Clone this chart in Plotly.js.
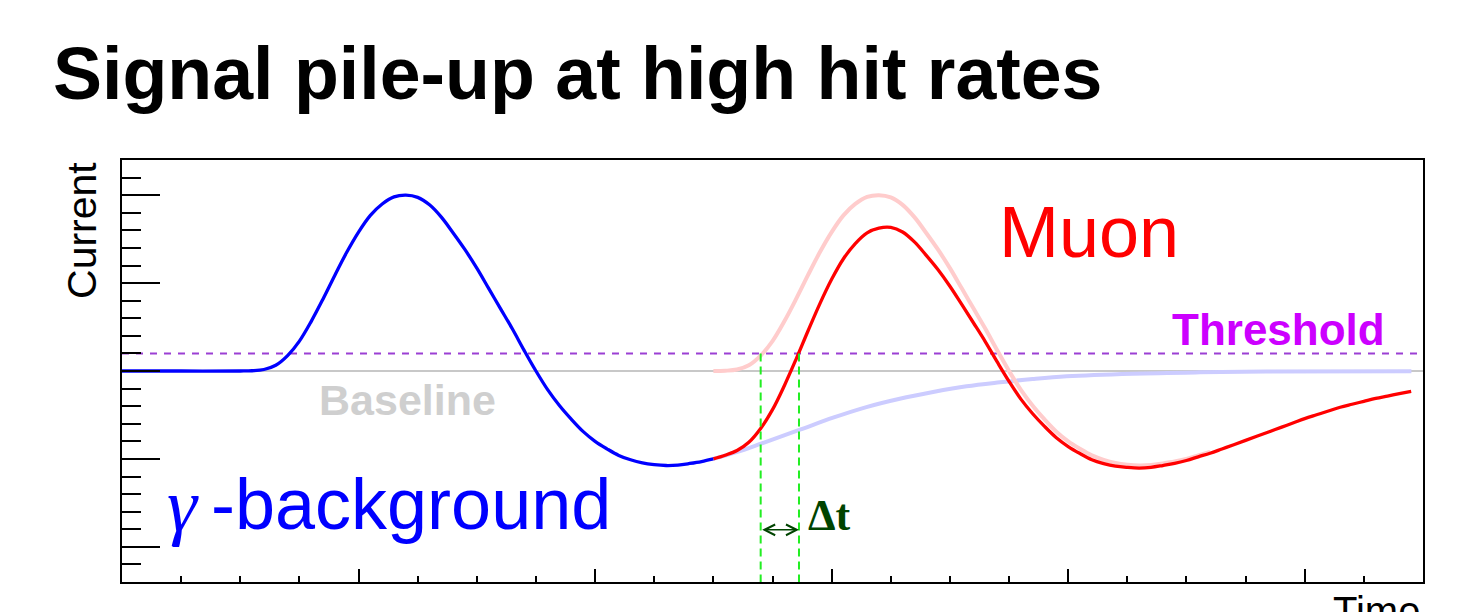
<!DOCTYPE html>
<html>
<head>
<meta charset="utf-8">
<script src="https://cdn.plot.ly/plotly-3.0.1.min.js"></script>
<style>
html,body{margin:0;padding:0;background:#ffffff;}
#chart{width:1461px;height:612px;}
</style>
</head>
<body>
<div id="chart"></div>
<script>
// ---- data (x in major-tick units, y in major-tick units) ----
const xRange = [0, 5.5];
const yRange = [-2.4, 2.4];
const baselineLevel = 0;
const thresholdLevel = 0.2;

// gamma-background pulse (solid blue part)
const bgX = [0, 0.25, 0.5, 0.55, 0.6, 0.65, 0.7, 0.75, 0.8, 0.85, 0.9, 0.95, 1.0, 1.05, 1.1, 1.15, 1.2, 1.25, 1.3, 1.35, 1.4, 1.45, 1.5, 1.55, 1.6, 1.65, 1.7, 1.75, 1.8, 1.85, 1.9, 1.95, 2.0, 2.05, 2.1, 2.15, 2.2, 2.25, 2.3, 2.35, 2.4, 2.45, 2.5];
const bgY = [0, 0, 0, 0.003, 0.017, 0.065, 0.175, 0.34, 0.565, 0.82, 1.09, 1.35, 1.58, 1.77, 1.90, 1.98, 2.0, 1.975, 1.89, 1.75, 1.57, 1.38, 1.17, 0.94, 0.71, 0.48, 0.235, 0.0, -0.215, -0.395, -0.55, -0.69, -0.80, -0.885, -0.96, -1.01, -1.045, -1.065, -1.075, -1.07, -1.052, -1.03, -1.0];

// gamma-background undershoot tail (pale blue)
const tailX = [2.5, 2.598, 2.701, 2.866, 3.006, 3.147, 3.288, 3.429, 3.57, 3.711, 3.85, 3.993, 4.273, 4.556, 4.838, 5.451];
const tailY = [-1.0, -0.923, -0.827, -0.668, -0.531, -0.41, -0.315, -0.239, -0.174, -0.129, -0.091, -0.06, -0.03, -0.015, -0.007, -0.003];

// muon pulse on a clean baseline (pale red)
const muonX = [2.5, 2.55, 2.6, 2.65, 2.7, 2.75, 2.8, 2.85, 2.9, 2.95, 3.0, 3.05, 3.1, 3.15, 3.2, 3.25, 3.3, 3.35, 3.4, 3.45, 3.5, 3.55, 3.6, 3.65, 3.7, 3.75, 3.8, 3.85, 3.9, 3.95, 4.0, 4.05, 4.1, 4.15, 4.2, 4.25, 4.3, 4.35, 4.4, 4.45, 4.5, 4.55, 4.6];
const muonY = [0, 0.003, 0.017, 0.065, 0.175, 0.34, 0.565, 0.82, 1.09, 1.35, 1.58, 1.77, 1.90, 1.98, 2.0, 1.975, 1.89, 1.75, 1.57, 1.38, 1.17, 0.94, 0.71, 0.48, 0.235, 0.0, -0.215, -0.395, -0.55, -0.69, -0.80, -0.885, -0.96, -1.01, -1.045, -1.065, -1.075, -1.07, -1.052, -1.03, -1.0, -0.961, -0.921];

// piled-up muon signal (red)
const sumX = [2.5, 2.55, 2.6, 2.65, 2.7, 2.75, 2.8, 2.85, 2.9, 2.95, 3.0, 3.05, 3.1, 3.15, 3.2, 3.25, 3.3, 3.35, 3.4, 3.45, 3.5, 3.55, 3.6, 3.65, 3.7, 3.75, 3.8, 3.85, 3.9, 3.95, 4.0, 4.05, 4.1, 4.15, 4.2, 4.25, 4.3, 4.35, 4.4, 4.45, 4.5, 4.55, 4.6, 4.65, 4.7, 4.75, 4.8, 4.85, 4.9, 4.95, 5.0, 5.05, 5.1, 5.15, 5.2, 5.25, 5.3, 5.35, 5.4, 5.45];
const sumY = [-1.0, -0.958, -0.904, -0.81, -0.653, -0.44, -0.167, 0.136, 0.455, 0.764, 1.043, 1.277, 1.45, 1.572, 1.626, 1.634, 1.581, 1.468, 1.315, 1.151, 0.964, 0.757, 0.546, 0.332, 0.103, -0.118, -0.32, -0.486, -0.63, -0.759, -0.859, -0.939, -1.009, -1.053, -1.083, -1.097, -1.104, -1.096, -1.075, -1.051, -1.018, -0.976, -0.935, -0.887, -0.839, -0.789, -0.74, -0.691, -0.641, -0.592, -0.542, -0.498, -0.455, -0.412, -0.378, -0.345, -0.312, -0.285, -0.258, -0.232];

// threshold crossing times (green markers) and the delta-t arrow level
const crossTimes = [2.70, 2.862];
const arrowLevel = -1.807;

// ---- traces ----
const curve = {shape: 'spline', smoothing: 1};
const traces = [
  {x: xRange, y: [baselineLevel, baselineLevel], mode: 'lines', line: {color: '#c8c8c8', width: 2}},
  {x: xRange, y: [thresholdLevel, thresholdLevel], mode: 'lines', line: {color: '#9b3fd4', width: 2, dash: '7px,7px'}},
  {x: tailX, y: tailY, mode: 'lines', line: Object.assign({color: '#ccccff', width: 4}, curve)},
  {x: muonX, y: muonY, mode: 'lines', line: Object.assign({color: '#ffcccc', width: 4}, curve)},
  {x: sumX, y: sumY, mode: 'lines', line: Object.assign({color: '#ff0000', width: 3.3}, curve)},
  {x: bgX, y: bgY, mode: 'lines', line: Object.assign({color: '#0000ff', width: 3.3}, curve)},
  {x: [crossTimes[0], crossTimes[0]], y: [thresholdLevel, yRange[0]], mode: 'lines', line: {color: '#22ee22', width: 2, dash: '8px,5px'}},
  {x: [crossTimes[1], crossTimes[1]], y: [thresholdLevel, yRange[0]], mode: 'lines', line: {color: '#22ee22', width: 2, dash: '8px,5px'}}
];

const sans = 'Liberation Sans, Arial, Helvetica, sans-serif';
const serif = 'Liberation Serif, Times New Roman, serif';

const annotations = [
  {xref: 'paper', yref: 'paper', x: -0.0545, y: 1.205, xanchor: 'left', yanchor: 'middle', showarrow: false,
   text: 'Signal pile-up at high hit rates', font: {family: sans, size: 73.5, color: '#000000', weight: 700}},
  {xref: 'paper', yref: 'paper', x: -0.0307, y: 0.999, xanchor: 'center', yanchor: 'top', showarrow: false, textangle: -90,
   text: 'Current', font: {family: sans, size: 41, color: '#000000'}},
  {xref: 'paper', yref: 'paper', x: 0.9992, y: -0.0128, xanchor: 'right', yanchor: 'top', showarrow: false,
   text: 'Time', font: {family: sans, size: 40, color: '#000000'}},
  {xref: 'x', yref: 'y', x: 3.698, y: 1.583, xanchor: 'left', yanchor: 'middle', showarrow: false,
   text: 'Muon', font: {family: sans, size: 72, color: '#ff0000'}},
  {xref: 'x', yref: 'y', x: 4.432, y: 0.476, xanchor: 'left', yanchor: 'middle', showarrow: false,
   text: 'Threshold', font: {family: sans, size: 44, color: '#cc00ff', weight: 700}},
  {xref: 'x', yref: 'y', x: 0.824, y: -0.334, xanchor: 'left', yanchor: 'middle', showarrow: false,
   text: 'Baseline', font: {family: sans, size: 43, color: '#cfcfcf', weight: 700}},
  {xref: 'x', yref: 'y', x: 0.18, y: -1.519, xanchor: 'left', yanchor: 'middle', showarrow: false,
   text: 'γ', font: {family: serif, size: 76, color: '#0000ff', style: 'italic'}},
  {xref: 'x', yref: 'y', x: 0.366, y: -1.509, xanchor: 'left', yanchor: 'middle', showarrow: false,
   text: '-background', font: {family: sans, size: 72, color: '#0000ff'}},
  {xref: 'x', yref: 'y', x: 2.891, y: -1.639, xanchor: 'left', yanchor: 'middle', showarrow: false,
   text: 'Δt', font: {family: serif, size: 44, color: '#004400', weight: 700}},
  {xref: 'x', yref: 'y', axref: 'x', ayref: 'y', x: crossTimes[1], y: arrowLevel, ax: crossTimes[0], ay: arrowLevel,
   text: '', showarrow: true, arrowside: 'end+start', arrowhead: 5, startarrowhead: 5,
   arrowsize: 1.4, startarrowsize: 1.4, arrowwidth: 1.5, arrowcolor: '#004400', standoff: 0, startstandoff: 0}
];

const axisCommon = {
  showgrid: false, zeroline: false, showticklabels: false,
  showline: true, linecolor: '#000000', linewidth: 2, mirror: true,
  ticks: 'inside', tickcolor: '#000000', tickwidth: 2, tick0: 0, dtick: 1
};

const layout = {
  width: 1461, height: 612,
  margin: {l: 122, r: 38, t: 160, b: 30, pad: 0},
  paper_bgcolor: '#ffffff', plot_bgcolor: '#ffffff',
  showlegend: false,
  font: {family: sans},
  xaxis: Object.assign({}, axisCommon, {range: xRange, ticklen: 13,
    minor: {ticks: 'inside', dtick: 0.25, tick0: 0, ticklen: 6, tickwidth: 2, tickcolor: '#000000'}}),
  yaxis: Object.assign({}, axisCommon, {range: yRange, ticklen: 38,
    minor: {ticks: 'inside', dtick: 0.2, tick0: 0, ticklen: 19, tickwidth: 2, tickcolor: '#000000'}}),
  annotations: annotations
};

Plotly.newPlot('chart', traces, layout, {staticPlot: true, displayModeBar: false});
</script>
</body>
</html>
